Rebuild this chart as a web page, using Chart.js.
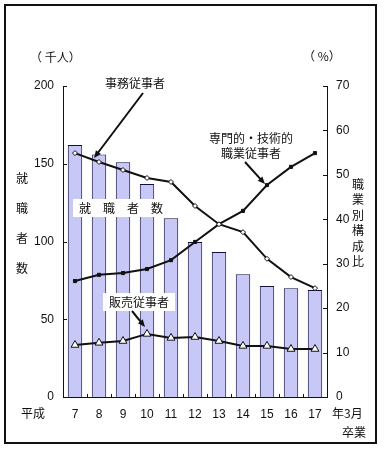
<!DOCTYPE html>
<html lang="ja">
<head>
<meta charset="UTF-8">
<title>就職者数と職業別構成比</title>
<style>
  body { margin: 0; background: #fff; }
  #wrap { position: relative; width: 385px; height: 451px; }
</style>
</head>
<body>
<div id="wrap"><canvas id="chart" width="385" height="451"></canvas></div>
<script src="https://cdn.jsdelivr.net/npm/chart.js"></script>
<script>
// data
const years = ['7', '8', '9', '10', '11', '12', '13', '14', '15', '16', '17'];
const shushokusha = [162, 156, 151, 137, 115, 99.7, 93.2, 79, 71.4, 70, 68.8];   // 千人
const jimu = [54.9, 52.9, 51.1, 49.3, 48.4, 43.0, 38.9, 37.1, 31.1, 27.0, 24.5];  // %
const senmon = [26.1, 27.5, 27.9, 28.8, 30.8, 34.9, 38.9, 41.9, 47.7, 51.8, 54.9];
const hanbai = [11.7, 12.2, 12.6, 14.2, 13.3, 13.5, 12.6, 11.5, 11.5, 10.8, 10.8];
const leftMax = 200, leftStep = 50;
const rightMax = 70, rightStep = 10;

const FONT = '"Liberation Sans", "Noto Sans CJK JP", sans-serif';
const JP = '"Noto Sans CJK JP", sans-serif';
const INK = '#111';

// text, boxes, arrows, inner ticks and frame
const extras = {
  id: 'extras',
  afterDatasetsDraw(chart) {
    const c = chart.ctx;
    const x = chart.scales.x, yl = chart.scales.y, yr = chart.scales.y1;
    const area = chart.chartArea;

    c.save();
    c.strokeStyle = INK;
    c.lineWidth = 1;
    // inner tick marks
    yl.ticks.forEach((t, i) => {
      const py = Math.round(yl.getPixelForTick(i)) + 0.5;
      c.beginPath(); c.moveTo(area.left, py); c.lineTo(area.left + 4, py); c.stroke();
    });
    yr.ticks.forEach((t, i) => {
      const py = Math.round(yr.getPixelForTick(i)) + 0.5;
      c.beginPath(); c.moveTo(area.right, py); c.lineTo(area.right - 4, py); c.stroke();
    });
    for (let i = 1; i < years.length; i++) {
      const px = Math.round((x.getPixelForValue(i - 1) + x.getPixelForValue(i)) / 2) + 0.5;
      c.beginPath(); c.moveTo(px, area.bottom); c.lineTo(px, area.bottom - 3); c.stroke();
    }

    function label(text, cx, cy, box) {
      c.font = '12px ' + JP;
      c.textAlign = 'center';
      c.textBaseline = 'middle';
      if (box) {
        const w = c.measureText(text).width;
        c.fillStyle = '#fff';
        c.fillRect(cx - w / 2 - 6, cy - 9, w + 12, 18);
      }
      c.fillStyle = INK;
      c.fillText(text, cx, cy);
    }

    function arrow(x0, y0, x1, y1) {
      const a = Math.atan2(y1 - y0, x1 - x0);
      c.strokeStyle = INK;
      c.fillStyle = INK;
      c.lineWidth = 2;
      c.beginPath(); c.moveTo(x0, y0); c.lineTo(x1 - 5 * Math.cos(a), y1 - 5 * Math.sin(a)); c.stroke();
      c.beginPath();
      c.moveTo(x1, y1);
      c.lineTo(x1 - 8 * Math.cos(a - 0.4), y1 - 8 * Math.sin(a - 0.4));
      c.lineTo(x1 - 8 * Math.cos(a + 0.4), y1 - 8 * Math.sin(a + 0.4));
      c.closePath(); c.fill();
    }

    // callouts
    label('事務従事者', 135, 83, true);
    arrow(143, 93, x.getPixelForValue(1) - 5, yr.getPixelForValue(jimu[1]) - 4);

    label('専門的・技術的', 251, 138, false);
    label('職業従事者', 251, 153, false);
    arrow(245, 162, x.getPixelForValue(8) - 2, yr.getPixelForValue(senmon[8]) - 1);

    label('就　職　者　数', 121, 208, true);

    label('販売従事者', 139, 302, true);
    arrow(132, 311, x.getPixelForValue(3) - 2, yr.getPixelForValue(hanbai[3]) - 7);

    // units and axis titles
    c.font = '12px ' + JP;
    c.fillStyle = INK;
    c.textBaseline = 'middle';
    c.textAlign = 'left';
    c.fillText('（ 千人）', 30, 57);
    c.fillText('（ %）', 303, 56);
    c.textAlign = 'center';
    ['就', '職', '者', '数'].forEach((ch, i) => c.fillText(ch, 22, 178 + i * 30));
    ['職', '業', '別', '構', '成', '比'].forEach((ch, i) => c.fillText(ch, 358, 184 + i * 15.5));
    c.fillText('平成', 33, 413);
    c.textAlign = 'left';
    c.fillText('年3月', 332, 413);
    c.fillText('卒業', 342, 432);

    // outer frame
    c.strokeStyle = INK;
    c.lineWidth = 2;
    c.strokeRect(5, 5, 371, 438);
    c.restore();
  }
};

new Chart(document.getElementById('chart'), {
  data: {
    labels: years,
    datasets: [
      {
        type: 'line', label: '事務従事者', data: jimu, yAxisID: 'y1', order: 1,
        borderColor: INK, borderWidth: 2, tension: 0,
        pointStyle: 'rectRot', pointRadius: 2.5, pointBackgroundColor: '#fff',
        pointBorderColor: INK, pointBorderWidth: 1
      },
      {
        type: 'line', label: '専門的・技術的職業従事者', data: senmon, yAxisID: 'y1', order: 1,
        borderColor: INK, borderWidth: 2, tension: 0,
        pointStyle: 'rect', pointRadius: 2.2, pointBackgroundColor: INK,
        pointBorderColor: INK, pointBorderWidth: 1
      },
      {
        type: 'line', label: '販売従事者', data: hanbai, yAxisID: 'y1', order: 1,
        borderColor: INK, borderWidth: 2, tension: 0,
        pointStyle: 'triangle', pointRadius: 4.5, pointBackgroundColor: '#fff',
        pointBorderColor: INK, pointBorderWidth: 1
      },
      {
        type: 'bar', label: '就職者数', data: shushokusha, yAxisID: 'y', order: 2,
        backgroundColor: '#c8c8f6', borderColor: '#101040', borderWidth: 1,
        barPercentage: 0.6, categoryPercentage: 1
      }
    ]
  },
  options: {
    responsive: false,
    animation: false,
    layout: { padding: { top: 86, left: 0, right: 0, bottom: 0 } },
    plugins: { legend: { display: false }, tooltip: { enabled: false } },
    scales: {
      x: {
        type: 'category', offset: true,
        grid: { display: false, drawTicks: false },
        border: { display: true, color: INK, width: 1 },
        ticks: { padding: 10, color: INK, font: { size: 12, family: FONT }, maxRotation: 0 },
        afterFit(s) { s.height = 54; }
      },
      y: {
        position: 'left', min: 0, max: leftMax,
        grid: { display: false, drawTicks: false },
        border: { display: true, color: INK, width: 1 },
        ticks: { stepSize: leftStep, padding: 9, color: INK, font: { size: 12, family: FONT } },
        afterFit(s) { s.width = 63; }
      },
      y1: {
        position: 'right', min: 0, max: rightMax,
        grid: { display: false, drawTicks: false },
        border: { display: true, color: INK, width: 1 },
        ticks: { stepSize: rightStep, padding: 9, color: INK, font: { size: 12, family: FONT } },
        afterFit(s) { s.width = 58; }
      }
    }
  },
  plugins: [extras]
});
</script>
</body>
</html>
